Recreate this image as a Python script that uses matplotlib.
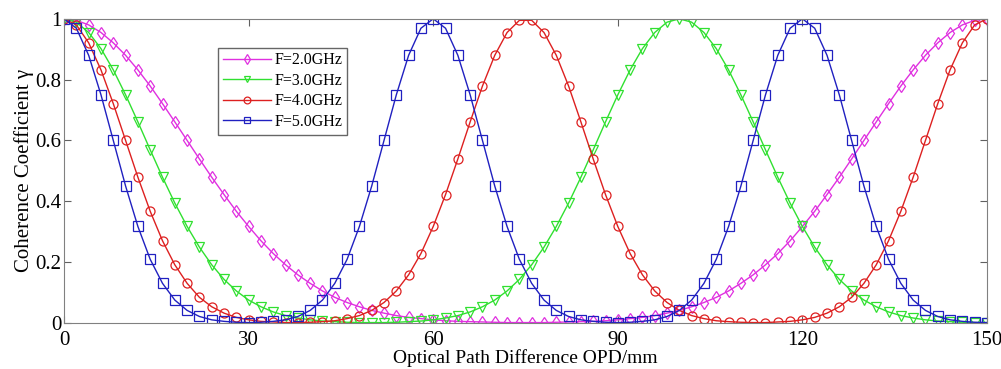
import matplotlib

matplotlib.use("Agg")

import matplotlib.pyplot as plt
import numpy as np

plt.rcParams["font.family"] = ["Liberation Serif", "DejaVu Serif"]

# optical path difference, mm (markers every 2 mm)
opd = np.arange(0, 151, 2)

# F = 2.0 GHz
half_f2 = [1.0, 0.995, 0.980, 0.955, 0.921, 0.880, 0.832, 0.779, 0.721, 0.661,
           0.600, 0.539, 0.479, 0.422, 0.367, 0.317, 0.270, 0.228, 0.191, 0.158,
           0.130, 0.105, 0.084, 0.067, 0.053, 0.041, 0.032, 0.024, 0.018, 0.014,
           0.010, 0.007, 0.005, 0.004, 0.003, 0.002, 0.001, 0.001]
gamma_f2 = half_f2 + half_f2[::-1]

# F = 3.0 GHz
rise_f3 = [1.0, 0.989, 0.955, 0.902, 0.832, 0.750, 0.661, 0.569, 0.479, 0.394,
           0.317, 0.249, 0.191, 0.143, 0.105, 0.075, 0.053, 0.036, 0.024, 0.016,
           0.010, 0.006, 0.004, 0.002, 0.001, 0.001]
gamma_f3 = rise_f3 + rise_f3[-2::-1] + rise_f3[1:]

# F = 4.0 GHz
fall_f4 = [1.0, 0.980, 0.921, 0.832, 0.721, 0.600, 0.479, 0.367, 0.270, 0.191,
           0.130, 0.084, 0.053, 0.032, 0.018, 0.010, 0.005, 0.003, 0.001]
rise_f4 = [0.001, 0.002, 0.004, 0.007, 0.014, 0.024, 0.041, 0.067, 0.105, 0.158,
           0.228, 0.317, 0.422, 0.539, 0.661, 0.779, 0.880, 0.955, 0.995]
gamma_f4 = fall_f4 + rise_f4 + rise_f4[::-1] + fall_f4[::-1]

# F = 5.0 GHz
fall_f5 = [1.0, 0.969, 0.880, 0.750, 0.600, 0.450, 0.317, 0.209, 0.130, 0.075,
           0.041, 0.021, 0.010, 0.005, 0.002, 0.001]
gamma_f5 = fall_f5 + fall_f5[-2::-1] + fall_f5[1:] + fall_f5[-2::-1] + fall_f5[1:]

series = [
    ("F=2.0GHz", gamma_f2, "#e030e0", "d"),
    ("F=3.0GHz", gamma_f3, "#30e030", "v"),
    ("F=4.0GHz", gamma_f4, "#dd2020", "o"),
    ("F=5.0GHz", gamma_f5, "#2020c0", "s"),
]

fig = plt.figure(figsize=(10.01, 3.69), dpi=100)
ax = fig.add_axes([0.064, 0.125, 0.922, 0.824])

for label, values, color, marker in series:
    ax.plot(opd, values, color=color, lw=1.0, marker=marker, ms=6.5,
            mfc="none", mec=color, mew=0.9, label=label)

ax.set_xlim(0, 150)
ax.set_ylim(0, 1)
ax.set_xticks(np.arange(0, 151, 30))
ax.set_yticks(np.arange(0, 1.01, 0.2))
ax.set_yticklabels(["0", "0.2", "0.4", "0.6", "0.8", "1"])
ax.tick_params(direction="in", top=True, right=True, labelsize=15,
               length=5, color="#606060")
ax.tick_params(axis="x", pad=6)
ax.tick_params(axis="y", pad=2)
for spine in ax.spines.values():
    spine.set_color("#808080")

ax.set_xlabel("Optical Path Difference OPD/mm", fontsize=14, labelpad=-1)
ax.set_ylabel("Coherence Coefficient γ", fontsize=15, labelpad=1)

legend = ax.legend(loc="upper left", bbox_to_anchor=(0.167, 0.905), fontsize=11.5,
                   frameon=True, fancybox=False, handlelength=3.0,
                   borderpad=0.3, labelspacing=0.28, handletextpad=0.2,
                   borderaxespad=0, markerscale=0.75)
legend.get_frame().set_edgecolor("#404040")
legend.get_frame().set_linewidth(1.0)

fig.savefig("out.png", dpi=100)
plt.close(fig)
